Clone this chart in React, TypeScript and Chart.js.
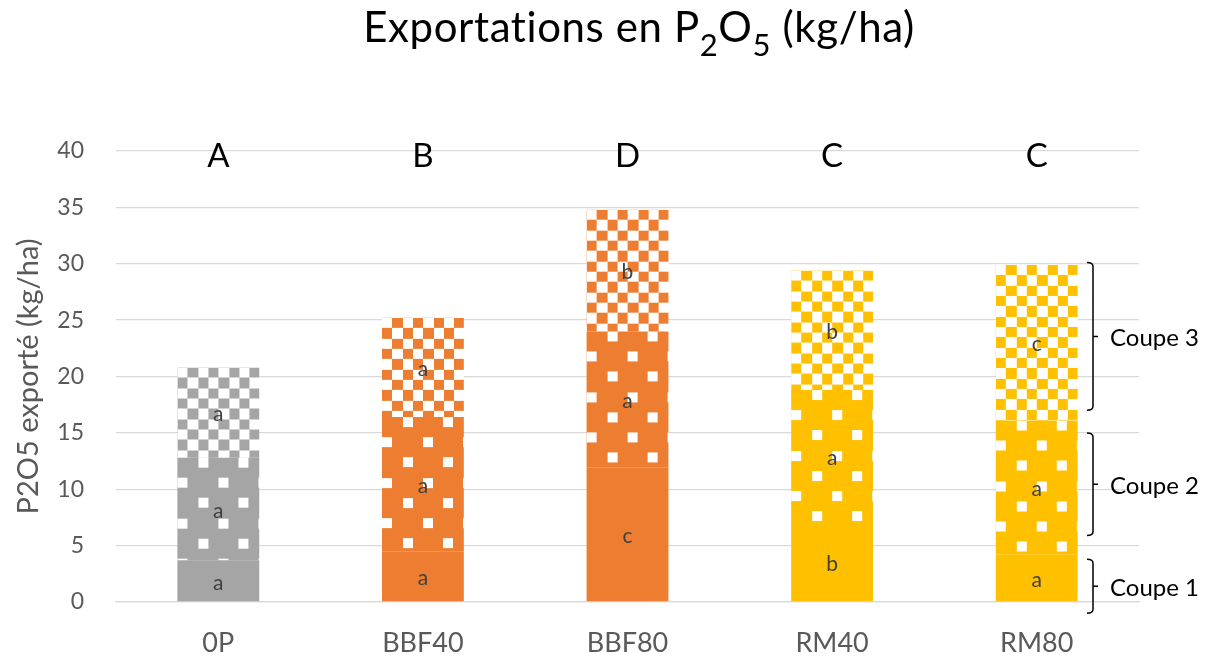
import React, { useEffect, useRef } from "react";
import { Chart, registerables } from "chart.js";

Chart.register(...registerables);

// ---------- data ----------
const categories = ["0P", "BBF40", "BBF80", "RM40", "RM80"];
const coupe1 = [3.7, 4.5, 11.9, 7.0, 4.2];
const coupe2 = [9.1, 11.9, 12.1, 11.8, 11.9];
const coupe3 = [8.0, 8.8, 10.8, 10.6, 13.8];
const letters1 = ["a", "a", "c", "b", "a"];
const letters2 = ["a", "a", "a", "a", "a"];
const letters3 = ["a", "a", "b", "b", "c"];
const groupLetters = ["A", "B", "D", "C", "C"];
const coupeNames = ["Coupe 1", "Coupe 2", "Coupe 3"];
const bracketRanges = [
  [-1.0, 3.8],
  [5.9, 15.0],
  [17.0, 30.1],
];
const yMin = 0;
const yMax = 40;
const yStep = 5;
const titleParts = [
  { t: "Exportations en P", sub: false },
  { t: "2", sub: true },
  { t: "O", sub: false },
  { t: "5", sub: true },
  { t: " (kg/ha)", sub: false },
];
const yTitle = "P2O5 exporté (kg/ha)";

// ---------- styles ----------
const barColors = ["#A5A5A5", "#ED7D31", "#ED7D31", "#FFC000", "#FFC000"];
const FONT = "Lato, 'Open Sans', sans-serif";
const BAR_PCT = 0.4;

const tileCache: Record<string, HTMLCanvasElement> = {};

function dotTile(color: string): HTMLCanvasElement {
  const key = "dot" + color;
  if (tileCache[key]) return tileCache[key];
  const c = document.createElement("canvas");
  c.width = 81;
  c.height = 81;
  const g = c.getContext("2d")!;
  g.fillStyle = color;
  g.fillRect(0, 0, 81, 81);
  g.fillStyle = "#ffffff";
  const s = 10;
  [0, 40].forEach((y) => [21, 61].forEach((x) => g.fillRect(x, y, s, s)));
  [20, 61].forEach((y) => [0, 41].forEach((x) => g.fillRect(x, y, s, s)));
  tileCache[key] = c;
  return c;
}

function checkerTile(color: string): HTMLCanvasElement {
  const key = "chk" + color;
  if (tileCache[key]) return tileCache[key];
  const n = 6;
  const size = 62;
  const c = document.createElement("canvas");
  c.width = size;
  c.height = size;
  const g = c.getContext("2d")!;
  g.fillStyle = "#ffffff";
  g.fillRect(0, 0, size, size);
  g.fillStyle = color;
  const b = (k: number) => Math.round((k * size) / n);
  for (let r = 0; r < n; r++) {
    for (let col = 0; col < n; col++) {
      if ((r + col) % 2 === 1) {
        g.fillRect(b(col), b(r), b(col + 1) - b(col), b(r + 1) - b(r));
      }
    }
  }
  tileCache[key] = c;
  return c;
}

function makeBg(kind: number) {
  return (ctx: any) => {
    const i = ctx.dataIndex;
    const color = barColors[i] ?? barColors[0];
    if (kind === 0 || i === undefined || i === null) return color;
    const chart = ctx.chart;
    const xs = chart.scales?.x;
    const ys = chart.scales?.y;
    if (!xs || !ys || !chart.chartArea) return color;
    const bw = (xs.width / categories.length) * BAR_PCT;
    const left = xs.getPixelForValue(i) - bw / 2;
    const series = [coupe1, coupe2, coupe3];
    let cum = 0;
    for (let d = 0; d <= kind; d++) cum += series[d][i];
    const top = ys.getPixelForValue(cum);
    const tile = kind === 1 ? dotTile(color) : checkerTile(color);
    const pat = chart.ctx.createPattern(tile, "repeat");
    if (!pat) return color;
    try {
      pat.setTransform(new DOMMatrix([1, 0, 0, 1, left, top]));
    } catch (e) {}
    return pat;
  };
}

const overlayPlugin = {
  id: "overlay",
  afterDatasetsDraw(chart: any) {
    const ctx = chart.ctx;
    const labelSets = [letters1, letters2, letters3];
    ctx.save();
    ctx.fillStyle = "#404040";
    ctx.font = `21px ${FONT}`;
    ctx.textAlign = "center";
    ctx.textBaseline = "middle";
    chart.data.datasets.forEach((_ds: any, di: number) => {
      const meta = chart.getDatasetMeta(di);
      meta.data.forEach((el: any, i: number) => {
        const p = el.getProps(["x", "y", "base"], true);
        ctx.fillText(labelSets[di][i], p.x, (p.y + p.base) / 2 + 2);
      });
    });
    ctx.restore();
  },
  afterDraw(chart: any) {
    const ctx = chart.ctx;
    const ys = chart.scales.y;
    const area = chart.chartArea;
    ctx.save();
    // group letters
    const meta0 = chart.getDatasetMeta(0);
    ctx.fillStyle = "#000000";
    ctx.font = `33px ${FONT}`;
    ctx.textAlign = "center";
    ctx.textBaseline = "alphabetic";
    meta0.data.forEach((el: any, i: number) => {
      ctx.fillText(groupLetters[i], el.x, ys.getPixelForValue(yMax) + 16);
    });

    // brackets
    const bx = area.right - 46;
    ctx.strokeStyle = "#000000";
    ctx.lineWidth = 1.5;
    ctx.font = `24px ${FONT}`;
    ctx.textAlign = "left";
    ctx.textBaseline = "middle";
    bracketRanges.forEach((r, k) => {
      const yTop = ys.getPixelForValue(r[1]);
      const yBot = ys.getPixelForValue(r[0]);
      const mid = (yTop + yBot) / 2;
      ctx.beginPath();
      ctx.moveTo(bx - 6, yTop);
      ctx.quadraticCurveTo(bx, yTop, bx, yTop + 4);
      ctx.lineTo(bx, yBot - 4);
      ctx.quadraticCurveTo(bx, yBot, bx - 6, yBot);
      ctx.moveTo(bx, mid);
      ctx.lineTo(bx + 5, mid);
      ctx.stroke();
      ctx.fillText(coupeNames[k], bx + 17, mid + 2);
    });

    // title with subscripts
    const mainSize = 42;
    const subSize = 31;
    try {
      (ctx as any).letterSpacing = "0.6px";
    } catch (e) {}
    let total = 0;
    const widths = titleParts.map((p) => {
      ctx.font = `${p.sub ? subSize : mainSize}px ${FONT}`;
      const w = ctx.measureText(p.t).width;
      total += w;
      return w;
    });
    let x = 639 - total / 2;
    ctx.textAlign = "left";
    ctx.textBaseline = "alphabetic";
    ctx.fillStyle = "#000000";
    titleParts.forEach((p, k) => {
      ctx.font = `${p.sub ? subSize : mainSize}px ${FONT}`;
      ctx.fillText(p.t, x, p.sub ? 56 : 42);
      x += widths[k];
    });
    ctx.restore();
  },
};

export default function App() {
  const ref = useRef<HTMLCanvasElement | null>(null);
  useEffect(() => {
    if (!ref.current) return;
    const chart = new Chart(ref.current, {
      type: "bar",
      data: {
        labels: categories,
        datasets: [coupe1, coupe2, coupe3].map((d, k) => ({
          label: coupeNames[k],
          data: d,
          backgroundColor: makeBg(k) as any,
          borderWidth: 0,
          barPercentage: BAR_PCT,
          categoryPercentage: 1,
        })),
      },
      options: {
        animation: false,
        responsive: true,
        maintainAspectRatio: false,
        layout: { padding: { top: 151, right: 68, left: 0, bottom: 0 } },
        plugins: {
          legend: { display: false },
          tooltip: { enabled: false },
          title: { display: false },
        },
        scales: {
          x: {
            stacked: true,
            grid: { display: false, drawTicks: false },
            border: { display: true, color: "#d9d9d9", width: 1.3 },
            ticks: {
              color: "#595959",
              font: { family: FONT, size: 27 },
              padding: 25,
            },
            afterFit: (s: any) => {
              s.height = 56;
            },
          },
          y: {
            stacked: true,
            min: yMin,
            max: yMax,
            grid: { color: "#d9d9d9", lineWidth: 1.3, drawTicks: false },
            border: { display: false },
            ticks: {
              stepSize: yStep,
              color: "#595959",
              font: { family: FONT, size: 23 },
              padding: 32,
            },
            title: {
              display: true,
              text: yTitle,
              color: "#595959",
              font: { family: FONT, size: 29 },
              padding: { top: 11, bottom: 0 },
            },
            afterFit: (s: any) => {
              s.width = 116;
            },
          },
        },
      },
      plugins: [overlayPlugin],
    });
    return () => chart.destroy();
  }, []);
  return (
    <div style={{ position: "fixed", left: 0, top: 0, width: 1207, height: 658 }}>
      <canvas ref={ref} />
    </div>
  );
}
